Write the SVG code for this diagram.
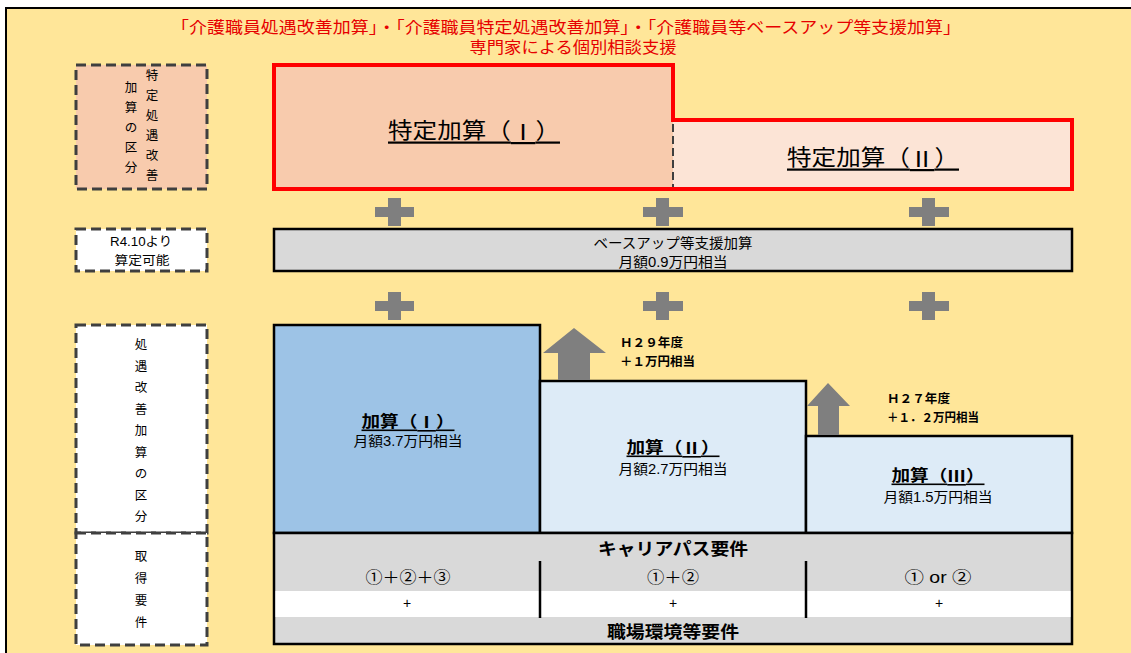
<svg xmlns="http://www.w3.org/2000/svg" width="1131" height="653" viewBox="0 0 1131 653">
<style>
text{font-family:"Liberation Sans","Noto Sans CJK JP",sans-serif;fill:#000;dominant-baseline:central}
.c{text-anchor:middle}
.title{fill:#E60000;font-size:16px}
.dash{stroke:#3F3F3F;stroke-width:3;stroke-dasharray:10 5}
.box{stroke:#000;stroke-width:2.5}
.plus{fill:#7F7F7F}
.arrow{fill:#7F7F7F}
.vt{font-size:12.5px;text-anchor:middle}
.big{font-size:22px;text-decoration:underline}
.lbl{font-size:16px;font-weight:bold;text-decoration:underline}
.amt{font-size:14px}
.note{font-size:12px;font-weight:bold}
.req{font-size:17px;font-weight:bold}
.rn{font-family:"Noto Sans CJK JP","Liberation Serif",serif}
</style>
<rect x="0" y="0" width="1131" height="653" fill="#FFFFFF"/>
<rect id="frame" x="6" y="8" width="1140" height="660" fill="#FFE699" stroke="#000" stroke-width="2"/>

<g id="title">
<text class="title c" x="566" y="27" textLength="790" lengthAdjust="spacingAndGlyphs">「介護職員処遇改善加算」・「介護職員特定処遇改善加算」・「介護職員等ベースアップ等支援加算」</text>
<text class="title c" x="573" y="47" textLength="207" lengthAdjust="spacingAndGlyphs">専門家による個別相談支援</text>
</g>

<g id="label-tokutei">
<rect class="dash" x="76" y="65" width="131" height="124" fill="#F8CBAD"/>
<text class="vt" font-size="12"><tspan x="152" y="76">特</tspan><tspan x="152" y="96">定</tspan><tspan x="152" y="116">処</tspan><tspan x="152" y="136">遇</tspan><tspan x="152" y="156">改</tspan><tspan x="152" y="176">善</tspan></text>
<text class="vt" font-size="12"><tspan x="131" y="88">加</tspan><tspan x="131" y="108">算</tspan><tspan x="131" y="128">の</tspan><tspan x="131" y="148">区</tspan><tspan x="131" y="168">分</tspan></text>
</g>

<g id="label-r410">
<rect class="dash" x="76" y="229" width="131" height="42" fill="#FFFFFF"/>
<text class="c" x="141" y="242" font-size="12.5" textLength="62" lengthAdjust="spacingAndGlyphs">R4.10より</text>
<text class="c" x="142" y="261" font-size="12.5" textLength="55" lengthAdjust="spacingAndGlyphs">算定可能</text>
</g>

<g id="label-shogu">
<rect class="dash" x="76" y="325" width="131" height="208" fill="#FFFFFF"/>
<text class="vt" font-size="13"><tspan x="141" y="345">処</tspan><tspan x="141" y="366.5">遇</tspan><tspan x="141" y="388">改</tspan><tspan x="141" y="409.5">善</tspan><tspan x="141" y="431">加</tspan><tspan x="141" y="452.5">算</tspan><tspan x="141" y="474">の</tspan><tspan x="141" y="495.5">区</tspan><tspan x="141" y="517">分</tspan></text>
</g>

<g id="label-shutoku">
<rect class="dash" x="76" y="533" width="131" height="112" fill="#FFFFFF"/>
<text class="vt" font-size="13"><tspan x="141" y="557">取</tspan><tspan x="141" y="579">得</tspan><tspan x="141" y="601">要</tspan><tspan x="141" y="623">件</tspan></text>
</g>

<g id="node-tokutei">
<rect x="274" y="65" width="399" height="124" fill="#F8CBAD"/>
<rect x="673" y="120" width="399" height="69" fill="#FCE4D6"/>
<line x1="673" y1="124" x2="673" y2="187" stroke="#3F3F3F" stroke-width="2" stroke-dasharray="8 4"/>
<path d="M274,65 H673 V120 H1072 V189 H274 Z" fill="none" stroke="#FF0000" stroke-width="4"/>
<text class="big c" x="474" y="130" textLength="172" lengthAdjust="spacingAndGlyphs">特定加算（<tspan class="rn">Ⅰ</tspan>）</text>
<text class="big c" x="873" y="157" textLength="172" lengthAdjust="spacingAndGlyphs">特定加算（<tspan class="rn">Ⅱ</tspan>）</text>
</g>

<g id="node-baseup">
<rect class="box" x="274" y="229" width="798" height="42" fill="#D9D9D9"/>
<text class="c" x="673" y="243" font-size="14" textLength="159" lengthAdjust="spacingAndGlyphs">ベースアップ等支援加算</text>
<text class="c" x="673" y="262" font-size="14" textLength="109" lengthAdjust="spacingAndGlyphs">月額0.9万円相当</text>
</g>

<g id="plus-signs" class="plus">
<rect x="375" y="207" width="39" height="10"/><rect x="388" y="198" width="13" height="28"/>
<rect x="643" y="207" width="40" height="10"/><rect x="656" y="198" width="13" height="28"/>
<rect x="909" y="207" width="40" height="10"/><rect x="922" y="198" width="13" height="28"/>
<rect x="375" y="301" width="39" height="10"/><rect x="388" y="292" width="13" height="28"/>
<rect x="643" y="301" width="40" height="10"/><rect x="656" y="292" width="13" height="28"/>
<rect x="909" y="301" width="40" height="10"/><rect x="922" y="292" width="13" height="28"/>
</g>

<g id="node-kasan1">
<rect class="box" x="274" y="325" width="266" height="208" fill="#9DC3E6"/>
<text class="lbl c" x="408" y="421" textLength="93" lengthAdjust="spacingAndGlyphs">加算（<tspan class="rn">Ⅰ</tspan>）</text>
<text class="amt c" x="408" y="441" textLength="109" lengthAdjust="spacingAndGlyphs">月額3.7万円相当</text>
</g>

<g id="node-kasan2">
<rect class="box" x="540" y="381" width="266" height="152" fill="#DDEBF7"/>
<text class="lbl c" x="673" y="447" textLength="93" lengthAdjust="spacingAndGlyphs">加算（<tspan class="rn">Ⅱ</tspan>）</text>
<text class="amt c" x="673" y="469" textLength="109" lengthAdjust="spacingAndGlyphs">月額2.7万円相当</text>
</g>

<g id="node-kasan3">
<rect class="box" x="806" y="436" width="266" height="97" fill="#DDEBF7"/>
<text class="lbl c" x="938" y="475" textLength="93" lengthAdjust="spacingAndGlyphs">加算（<tspan class="rn">Ⅲ</tspan>）</text>
<text class="amt c" x="938" y="497" textLength="109" lengthAdjust="spacingAndGlyphs">月額1.5万円相当</text>
</g>

<g id="connectors">
<path class="arrow" d="M574,328 L606,353 L590,353 L590,380 L558,380 L558,353 L543,353 Z"/>
<path class="arrow" d="M828,383 L850,406 L839,406 L839,435 L818,435 L818,406 L807,406 Z"/>
</g>

<g id="notes">
<text class="note" x="620" y="343" textLength="63" lengthAdjust="spacingAndGlyphs">Ｈ２９年度</text>
<text class="note" x="620" y="362" textLength="75" lengthAdjust="spacingAndGlyphs">＋１万円相当</text>
<text class="note" x="887" y="399" textLength="63" lengthAdjust="spacingAndGlyphs">Ｈ２７年度</text>
<text class="note" x="887" y="418" textLength="92" lengthAdjust="spacingAndGlyphs">＋１．２万円相当</text>
</g>

<g id="node-requirements">
<rect class="box" x="274" y="533" width="798" height="111" fill="#D9D9D9"/>
<rect x="275.5" y="591" width="795" height="26" fill="#FFFFFF"/>
<line x1="540" y1="561" x2="540" y2="618" stroke="#000" stroke-width="2.5"/>
<line x1="806" y1="561" x2="806" y2="618" stroke="#000" stroke-width="2.5"/>
<text class="req c" x="673" y="549" textLength="150" lengthAdjust="spacingAndGlyphs">キャリアパス要件</text>
<text class="c" x="408" y="577" font-size="16" textLength="85" lengthAdjust="spacingAndGlyphs">①＋②＋③</text>
<text class="c" x="673" y="577" font-size="16" textLength="52" lengthAdjust="spacingAndGlyphs">①＋②</text>
<text class="c" x="938" y="577" font-size="16" textLength="67" lengthAdjust="spacingAndGlyphs">① or ②</text>
<text class="c" x="407" y="603" font-size="14">+</text>
<text class="c" x="673" y="603" font-size="14">+</text>
<text class="c" x="939" y="603" font-size="14">+</text>
<text class="req c" x="673" y="632" textLength="132" lengthAdjust="spacingAndGlyphs">職場環境等要件</text>
</g>
</svg>
